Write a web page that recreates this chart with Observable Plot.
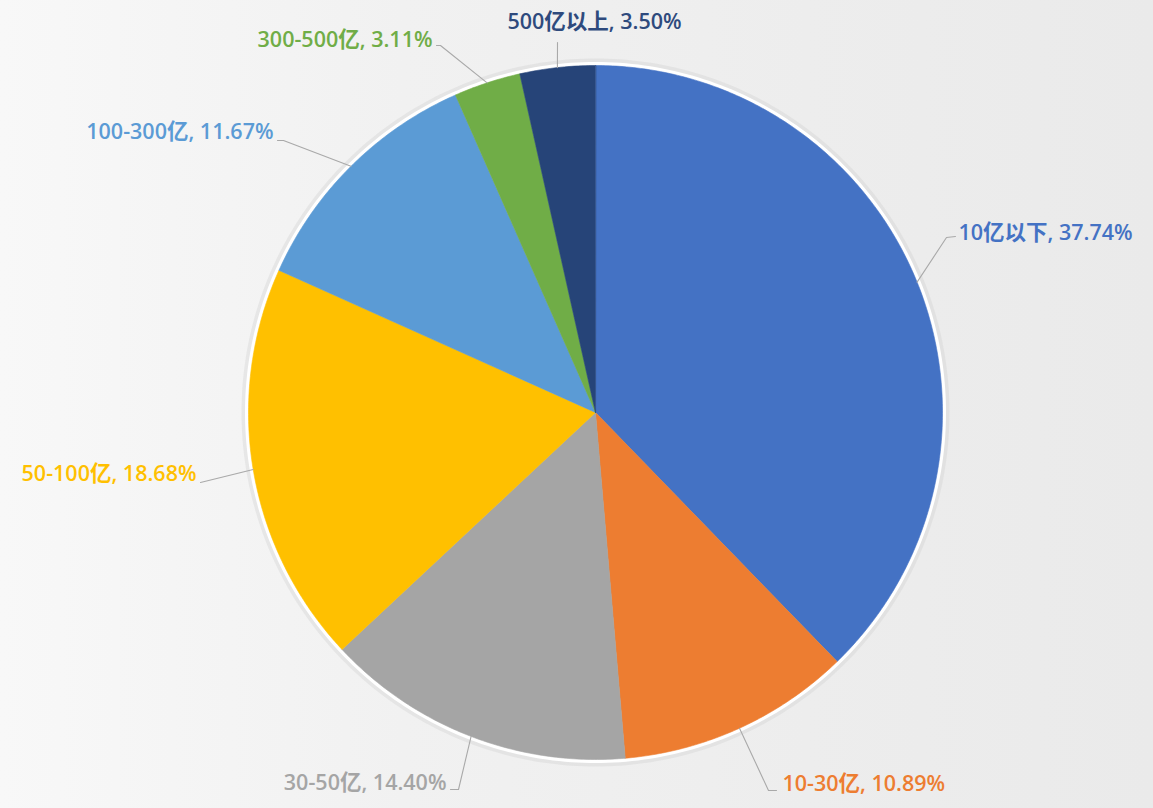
<!DOCTYPE html>
<html><head><meta charset="utf-8">
<script src="https://cdn.jsdelivr.net/npm/d3@7"></script>
<script src="https://cdn.jsdelivr.net/npm/@observablehq/plot@0.6"></script>
<style>
html,body{margin:0;padding:0;}
body{width:1153px;height:808px;overflow:hidden;
background:linear-gradient(to right,#f8f8f8 0%,#f1f1f1 35%,#ededed 70%,#eaeaea 100%);}
#chart svg{display:block;background:transparent;}
</style></head>
<body><div id="chart"></div>
<script>
// ---- data ----
const categories = ["10亿以下","10-30亿","30-50亿","50-100亿","100-300亿","300-500亿","500亿以上"];
const shares = [37.74, 10.89, 14.40, 18.68, 11.67, 3.11, 3.50];
const colors = ["#4472C4","#ED7D31","#A5A5A5","#FFC000","#5B9BD5","#70AD47","#264478"];
const labelColors = ["#4472C4","#ED7D31","#A5A5A5","#FFC000","#5B9BD5","#70AD47","#2E4A7D"];

// ---- layout (pixels) for labels: elbow points, text anchor ----
const W = 1153, H = 808, CX = 595, CY = 412, R = 347;
const labelLayout = [
  {elbow:[[946,237],[955,236]], text:[958,233], anchor:"start"},
  {elbow:[[768,790],[776,790]], text:[782,784], anchor:"start"},
  {elbow:[[458,789],[450,789]], text:[446,783], anchor:"end"},
  {elbow:[[200,482]],            text:[196,474], anchor:"end"},
  {elbow:[[283,140],[277,140]], text:[273,132], anchor:"end"},
  {elbow:[[440,45],[436,45]],   text:[432,40],  anchor:"end"},
  {elbow:[[557,42]],            text:[594,22],  anchor:"middle"}
];

// convert pixel to unit coordinates (center 0, radius 1, y up)
const ux = px => (px - CX) / R, uy = py => (CY - py) / R;

// slices
const total = d3.sum(shares);
let acc = 0;
const slices = [], lines = [], labels = [];
categories.forEach((name, i) => {
  const a0 = acc / total * 2 * Math.PI;
  acc += shares[i];
  const a1 = acc / total * 2 * Math.PI;
  const n = Math.max(4, Math.ceil((a1 - a0) / 0.01));
  slices.push({name, x: 0, y: 0});
  for (let k = 0; k <= n; k++) {
    const a = a0 + (a1 - a0) * k / n;
    slices.push({name, x: Math.sin(a), y: Math.cos(a)});
  }
  const am = (a0 + a1) / 2;
  const L = labelLayout[i];
  lines.push({name, x: Math.sin(am), y: Math.cos(am)});
  L.elbow.forEach(p => lines.push({name, x: ux(p[0]), y: uy(p[1])}));
  labels.push({name, i, anchor: L.anchor, x: ux(L.text[0]), y: uy(L.text[1]),
    label: `${name}, ${shares[i].toFixed(2)}%`, color: labelColors[i]});
});

const ring = d3.range(0, 361, 1).map(d => ({x: Math.sin(d*Math.PI/180), y: Math.cos(d*Math.PI/180)}));

const font = "'Open Sans','Noto Sans CJK SC',sans-serif";
const textMark = anchor => Plot.text(labels.filter(d => d.anchor === anchor), {
  x: "x", y: "y", text: "label", fill: d => d.color, textAnchor: anchor,
  fontSize: 21.5, fontWeight: 600, fontFamily: font
});

const chart = Plot.plot({
  width: W, height: H,
  margin: 0,
  x: {domain: [ux(0), ux(W)], axis: null},
  y: {domain: [uy(H), uy(0)], axis: null},
  color: {domain: categories, range: colors},
  style: {background: "transparent", fontFamily: font},
  marks: [
    Plot.line(ring, {x: "x", y: "y", stroke: "#cfcfcf", strokeWidth: 14, strokeOpacity: 0.35}),
    Plot.line(ring, {x: "x", y: "y", stroke: "#ffffff", strokeWidth: 7}),
    Plot.line(slices, {x: "x", y: "y", z: "name", fill: "name", stroke: "name", strokeWidth: 0.6, curve: "linear-closed"}),
    Plot.line(lines, {x: "x", y: "y", z: "name", stroke: "#a9a9a9", strokeWidth: 1.1}),
    textMark("start"), textMark("end"), textMark("middle")
  ]
});
document.getElementById("chart").append(chart);
</script>
</body></html>
